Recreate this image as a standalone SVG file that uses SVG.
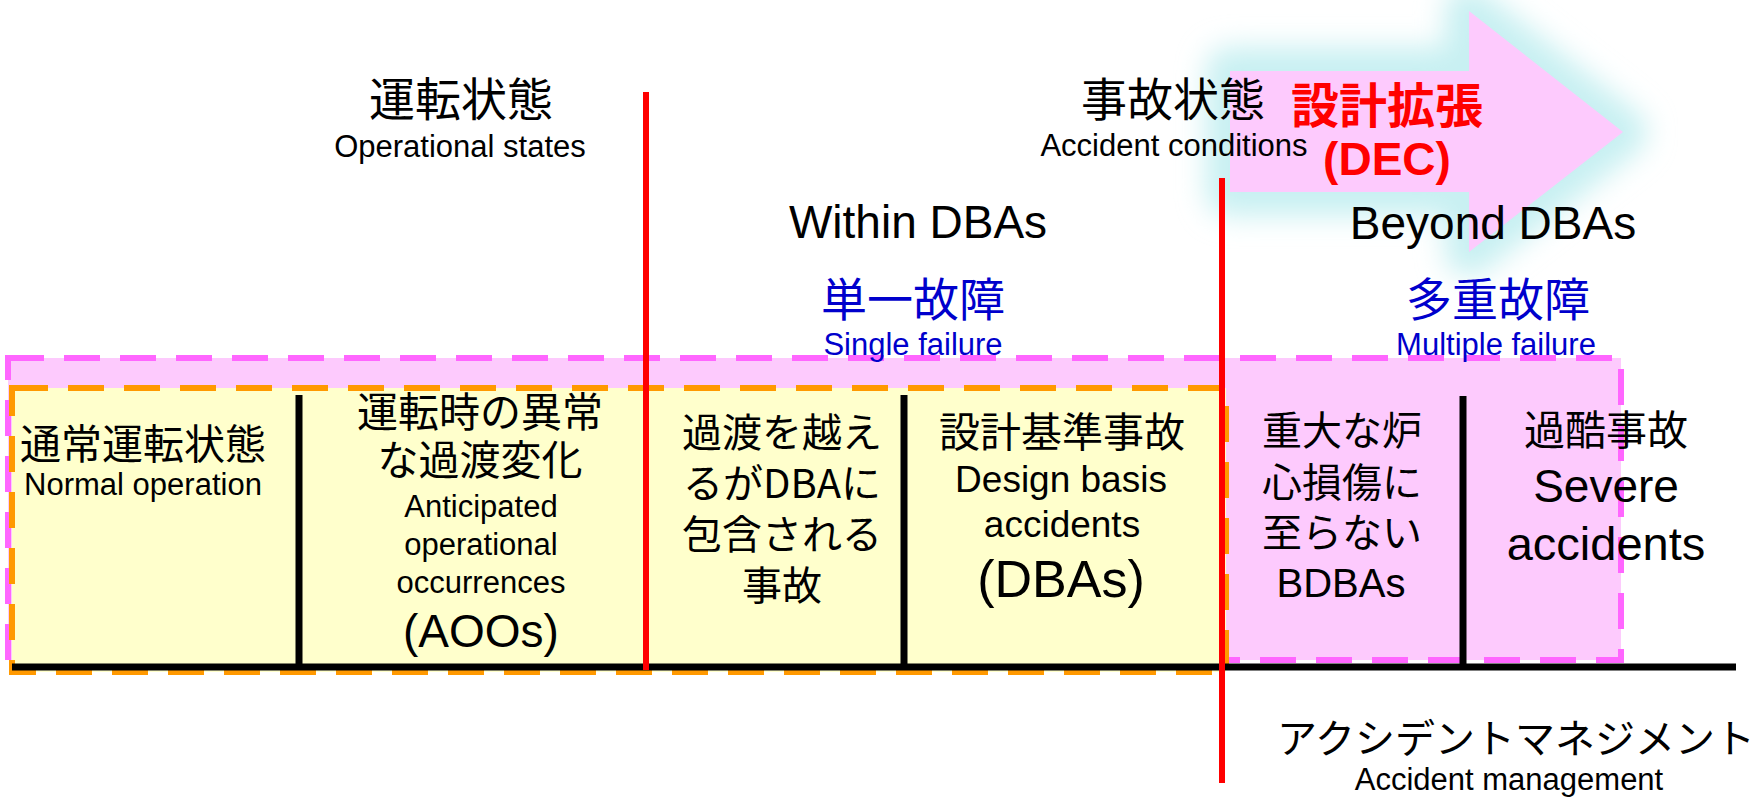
<svg xmlns="http://www.w3.org/2000/svg" width="1760" height="802" viewBox="0 0 1760 802">
<defs>
<style>
.jp{font-family:"Noto Sans CJK JP","Liberation Sans",sans-serif;fill:#000;text-anchor:middle}
.en{font-family:"Liberation Sans",Arial,sans-serif;fill:#000;text-anchor:middle}
.blue{fill:#0000CC}
.red{fill:#FF0000;font-weight:bold}
.div{stroke:#000;stroke-width:7}
.redline{stroke:#FF0000;stroke-width:6}
</style>
<filter id="glow" x="-40%" y="-50%" width="180%" height="200%">
<feGaussianBlur stdDeviation="14"/>
</filter>
</defs>
<rect width="1760" height="802" fill="#FFFFFF"/>

<g id="dec-arrow">
<path d="M1230,71 L1469,71 L1469,11 L1623,132 L1469,252 L1469,192 L1230,192 Z" fill="#C8F0F2" stroke="#C8F0F2" stroke-width="48" stroke-linejoin="round" filter="url(#glow)"/>
<path d="M1230,71 L1469,71 L1469,11 L1623,132 L1469,252 L1469,192 L1230,192 Z" fill="#FDCAFD"/>
</g>

<g id="regions">
<rect x="8" y="358" width="1613" height="302" fill="#FDCAFD" stroke="#FF66FF" stroke-width="6" stroke-dasharray="36 20"/>
<rect x="12" y="388" width="1214" height="284" fill="#FFFFCC" stroke="#FF9900" stroke-width="6" stroke-dasharray="36 20"/>
</g>

<g id="connectors">
<line class="div" x1="12" y1="667" x2="1736" y2="667"/>
<line class="div" x1="299" y1="395" x2="299" y2="667"/>
<line class="div" x1="904" y1="395" x2="904" y2="667"/>
<line class="div" x1="1463" y1="396" x2="1463" y2="667"/>
<line class="redline" x1="646" y1="92" x2="646" y2="670"/>
<line class="redline" x1="1222" y1="178" x2="1222" y2="783"/>
</g>

<g id="header-operational">
<text class="jp" x="461" y="116" font-size="46">運転状態</text>
<text class="en" x="460" y="157" font-size="31">Operational states</text>
</g>

<g id="header-accident">
<text class="jp" x="1173" y="116" font-size="46">事故状態</text>
<text class="en" x="1174" y="156" font-size="31">Accident conditions</text>
</g>

<g id="header-dec">
<text class="jp red" x="1387" y="123" font-size="48">設計拡張</text>
<text class="en red" x="1387" y="175" font-size="46">(DEC)</text>
</g>

<g id="header-within">
<text class="en" x="918" y="238" font-size="46">Within DBAs</text>
<text class="jp blue" x="913" y="316" font-size="46">単一故障</text>
<text class="en blue" x="913" y="355" font-size="31">Single failure</text>
</g>

<g id="header-beyond">
<text class="en" x="1493" y="239" font-size="46">Beyond DBAs</text>
<text class="jp blue" x="1498" y="316" font-size="46">多重故障</text>
<text class="en blue" x="1496" y="355" font-size="31">Multiple failure</text>
</g>

<g id="box-normal">
<text class="jp" x="143" y="459" font-size="41">通常運転状態</text>
<text class="en" x="143" y="495" font-size="31">Normal operation</text>
</g>

<g id="box-aoo">
<text class="jp" x="480" y="427" font-size="41">運転時の異常</text>
<text class="jp" x="480" y="475" font-size="41">な過渡変化</text>
<text class="en" x="481" y="517" font-size="31">Anticipated</text>
<text class="en" x="481" y="555" font-size="31">operational</text>
<text class="en" x="481" y="593" font-size="31">occurrences</text>
<text class="en" x="481" y="647" font-size="46">(AOOs)</text>
</g>

<g id="box-beyond-transient">
<text class="jp" x="782" y="447" font-size="40">過渡を越え</text>
<text class="jp" x="782" y="498" font-size="40">るがDBAに</text>
<text class="jp" x="782" y="549" font-size="40">包含される</text>
<text class="jp" x="782" y="600" font-size="40">事故</text>
</g>

<g id="box-dba">
<text class="jp" x="1062" y="447" font-size="41">設計基準事故</text>
<text class="en" x="1061" y="492" font-size="37">Design basis</text>
<text class="en" x="1062" y="537" font-size="37">accidents</text>
<text class="en" x="1061" y="597" font-size="52">(DBAs)</text>
</g>

<g id="box-bdba">
<text class="jp" x="1342" y="445" font-size="40">重大な炉</text>
<text class="jp" x="1342" y="497" font-size="40">心損傷に</text>
<text class="jp" x="1342" y="547" font-size="40">至らない</text>
<text class="en" x="1341" y="597" font-size="40">BDBAs</text>
</g>

<g id="box-severe">
<text class="jp" x="1606" y="445" font-size="41">過酷事故</text>
<text class="en" x="1606" y="502" font-size="46">Severe</text>
<text class="en" x="1606" y="560" font-size="47">accidents</text>
</g>

<g id="accident-management">
<text class="jp" x="1516" y="753" font-size="40">アクシデントマネジメント</text>
<text class="en" x="1509" y="790" font-size="31">Accident management</text>
</g>
</svg>
